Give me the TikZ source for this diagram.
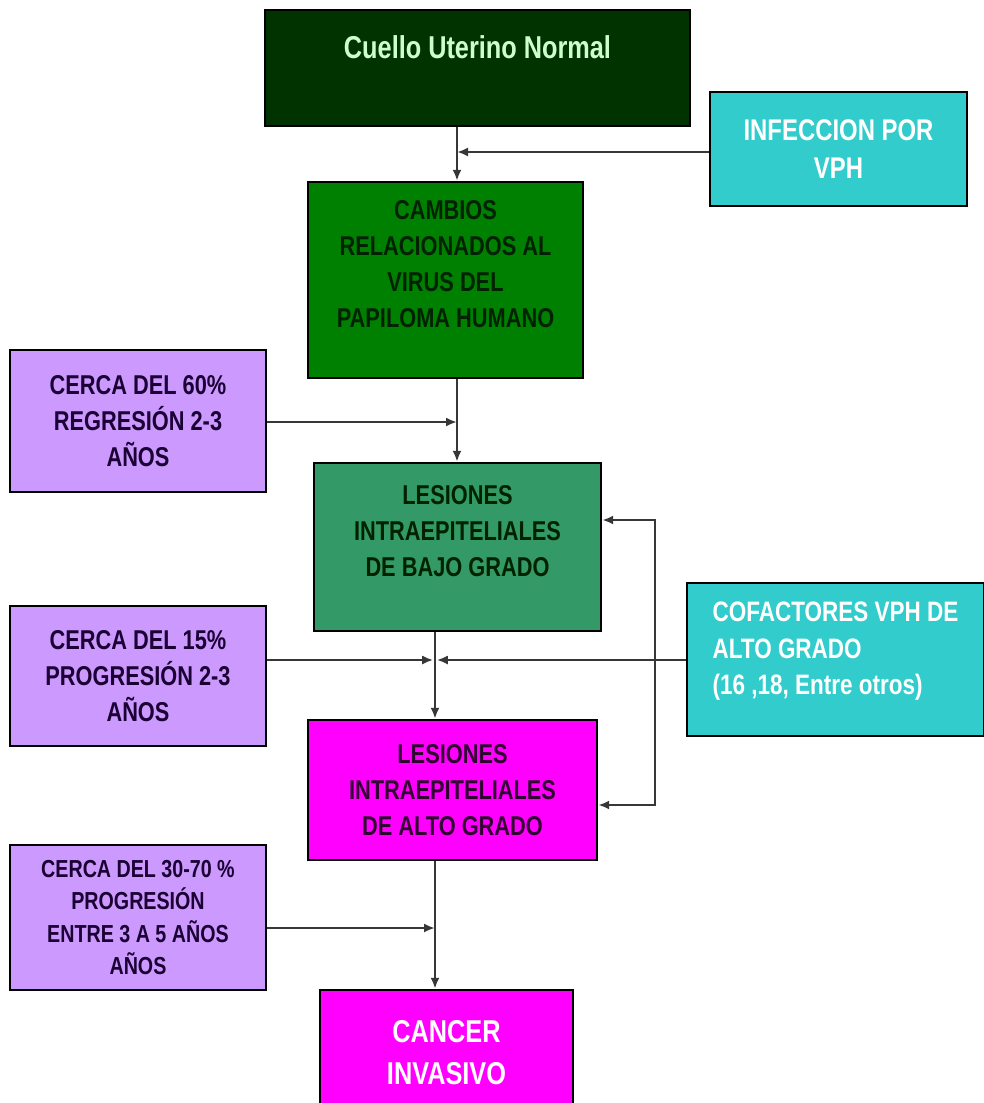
\documentclass[tikz,border=0pt]{standalone}
\usepackage{fontspec}
\setmainfont{Liberation Sans}[FakeStretch=0.8]
\usetikzlibrary{arrows.meta, calc}
\definecolor{cuellogreen}{RGB}{0,51,0}
\definecolor{cuellotext}{RGB}{204,255,204}
\definecolor{vphcyan}{RGB}{51,204,204}
\definecolor{cambiosgreen}{RGB}{0,128,0}
\definecolor{bajogreen}{RGB}{51,153,102}
\definecolor{lilac}{RGB}{204,153,255}
\definecolor{altomagenta}{RGB}{255,0,255}
\definecolor{greenink}{RGB}{0,34,0}
\definecolor{navyink}{RGB}{26,0,51}
\definecolor{plumink}{RGB}{51,0,51}
\definecolor{linegray}{RGB}{55,55,55}

\begin{document}
\begin{tikzpicture}[x=0.02cm, y=-0.02cm,
    box/.style={draw=black, line width=1.4pt, align=center, inner sep=2pt,
        font=\bfseries\fontsize{15.5}{20.5}\selectfont},
    arr/.style={draw=linegray, line width=1.3pt, -{Latex[length=2.2mm, width=1.8mm]}},
    biarr/.style={draw=linegray, line width=1.3pt, {Latex[length=2.2mm, width=1.8mm]}-{Latex[length=2.2mm, width=1.8mm]}}]

    \useasboundingbox (0,0) rectangle (984,1103);

    % Main column
    \node[box, fill=cuellogreen, text=cuellotext, minimum width=8.5cm, minimum height=2.32cm,
        text depth=0.85cm, font=\bfseries\fontsize{18}{22}\selectfont] (cuello) at (477.5,68) {Cuello Uterino Normal};
    \node[box, fill=cambiosgreen, text=greenink, minimum width=5.5cm, minimum height=3.92cm,
        text depth=0.64cm] (cambios) at (445.5,280) {CAMBIOS\\RELACIONADOS AL\\VIRUS DEL\\PAPILOMA HUMANO};
    \node[box, fill=bajogreen, text=greenink, minimum width=5.74cm, minimum height=3.36cm,
        text depth=0.64cm] (bajo) at (457.5,547) {LESIONES\\INTRAEPITELIALES\\DE BAJO GRADO};
    \node[box, fill=altomagenta, text=plumink, minimum width=5.78cm, minimum height=2.8cm] (alto) at (452.5,790)
        {LESIONES\\INTRAEPITELIALES\\DE ALTO GRADO};
    \node[box, fill=altomagenta, text=white, minimum width=5.06cm, minimum height=2.5cm,
        font=\bfseries\fontsize{18}{24}\selectfont] (cancer) at (446.5,1052.5) {CANCER\\INVASIVO};

    % Side boxes
    \node[box, fill=vphcyan, text=white, minimum width=5.14cm, minimum height=2.28cm,
        font=\bfseries\fontsize{17}{21.5}\selectfont] (infeccion) at (838.5,149) {INFECCION POR\\VPH};
    \node[box, fill=vphcyan, text=white, minimum width=5.94cm, minimum height=3.06cm,
        align=left, text depth=0.45cm,
        font=\bfseries\fontsize{16}{21}\selectfont] (cofact) at (835.5,659.5)
        {COFACTORES VPH DE\\ALTO GRADO\\(16 ,18, Entre otros)};
    \node[box, fill=lilac, text=navyink, minimum width=5.12cm, minimum height=2.84cm] (cerca60) at (138,421)
        {CERCA DEL 60\%\\REGRESIÓN 2-3\\AÑOS};
    \node[box, fill=lilac, text=navyink, minimum width=5.12cm, minimum height=2.8cm] (cerca15) at (138,676)
        {CERCA DEL 15\%\\PROGRESIÓN 2-3\\AÑOS};
    \node[box, fill=lilac, text=navyink, minimum width=5.12cm, minimum height=2.9cm,
        font=\bfseries\fontsize{14}{18.5}\selectfont] (cerca3070) at (138,917.5)
        {CERCA DEL 30-70 \%\\PROGRESIÓN\\ENTRE 3 A 5 AÑOS\\AÑOS};

    % Junctions
    \coordinate (j1) at (457,152);
    \coordinate (j2) at (457,422);
    \coordinate (j3) at (435,660);
    \coordinate (j4) at (435,928);
    \coordinate (loopT) at (655,520);
    \coordinate (loopB) at (655,805);

    % Connectors
    \draw[arr] (cuello.south -| j1) -- (cambios.north -| j1);
    \draw[arr] (infeccion.west |- j1) -- (j1);
    \draw[arr] (cambios.south -| j2) -- (bajo.north -| j2);
    \draw[arr] (cerca60.east |- j2) -- (j2);
    \draw[arr] (bajo.south -| j3) -- (alto.north -| j3);
    \draw[arr] (cerca15.east |- j3) -- ([xshift=-1pt]j3);
    \draw[arr] (cofact.west |- j3) -- ([xshift=1pt]j3);
    \draw[biarr] (bajo.east |- loopT) -- (loopT) -- (loopB) -- (alto.east |- loopB);
    \draw[arr] (alto.south -| j4) -- (cancer.north -| j4);
    \draw[arr] (cerca3070.east |- j4) -- (j4);
\end{tikzpicture}
\end{document}
